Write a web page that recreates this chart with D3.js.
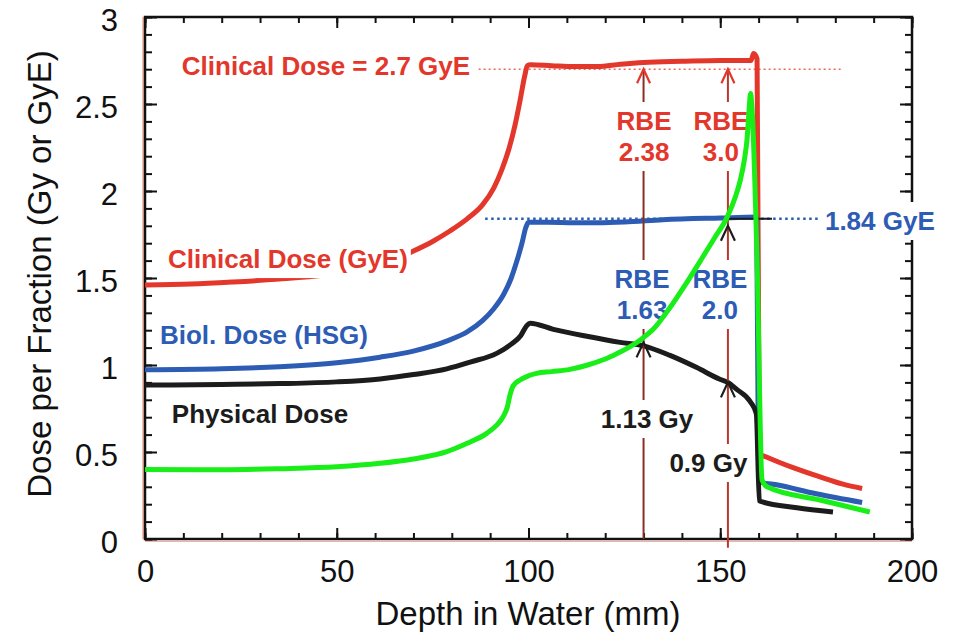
<!DOCTYPE html>
<html><head><meta charset="utf-8">
<script src="https://cdn.jsdelivr.net/npm/d3@7"></script>
<style>
html,body{margin:0;padding:0;background:#fff;}
svg{display:block;font-family:"Liberation Sans",Arial,Helvetica,sans-serif;}
</style></head><body>
<svg id="chart" width="953" height="634"></svg>
<script>
// Depth-dose profiles: [depth in mm, dose per fraction]
const clinicalDose = [[0,1.46],[12,1.465],[23,1.477],[35,1.494],[47,1.517],[53,1.535],[58,1.557],[63,1.59],[67,1.625],[70,1.655],[75,1.71],[79.5,1.77],[84,1.84],[88,1.92],[91,2.02],[93,2.12],[95,2.25],[96.5,2.38],[97.8,2.52],[99,2.66],[99.7,2.72],[100.5,2.725],[106,2.72],[112,2.715],[118,2.715],[124,2.728],[130,2.738],[140,2.745],[150,2.75],[158,2.75],[158.7,2.79],[159.6,2.76],[160.2,0.49],[162.2,0.47],[169,0.41],[176,0.357],[182,0.315],[187,0.29]];
const biolDose = [[0,0.972],[20,0.978],[35,0.99],[50,1.013],[61.3,1.045],[70,1.08],[79,1.14],[84,1.19],[88,1.255],[91,1.325],[93.5,1.405],[95.5,1.5],[97,1.6],[98.3,1.7],[99.3,1.79],[100,1.82],[105,1.82],[112,1.818],[118,1.818],[125,1.822],[135,1.835],[150,1.845],[159.4,1.85],[160.1,0.33],[165,0.31],[175,0.26],[187,0.21]];
const physicalDose = [[0,0.885],[20,0.888],[35.2,0.893],[50,0.903],[61.3,0.92],[70,0.945],[78.7,0.978],[85,1.018],[91.7,1.067],[95.5,1.12],[98,1.17],[99.5,1.225],[100.4,1.24],[106.5,1.205],[115.2,1.165],[123.9,1.13],[130,1.11],[136.9,1.055],[143.9,0.985],[149.9,0.918],[152,0.9],[154.3,0.86],[157.8,0.79],[159.4,0.72],[160.2,0.22],[161,0.213],[170,0.18],[179.4,0.155]];
const greenDose = [[0,0.40],[20,0.398],[35.2,0.404],[50,0.415],[61.3,0.435],[70,0.46],[78.7,0.502],[84,0.55],[89.1,0.607],[91.5,0.65],[93.4,0.703],[94.5,0.76],[95.2,0.83],[96,0.88],[97.8,0.914],[100,0.938],[102.1,0.952],[106,0.962],[110.8,0.975],[115,0.997],[119.5,1.03],[123,1.065],[126.5,1.105],[129.5,1.15],[132.5,1.205],[136.9,1.33],[141,1.465],[145,1.605],[148.5,1.73],[151.8,1.85],[154,1.97],[155.2,2.06],[156.3,2.18],[157,2.3],[157.5,2.46],[157.9,2.56],[158.3,2.47],[159.6,1.6],[160.9,0.34],[162.2,0.30],[176,0.224],[189,0.155]];

const xTicks = [0, 50, 100, 150, 200];
const yTicks = [0, 0.5, 1, 1.5, 2, 2.5, 3];

// Reference levels and RBE markers
const clinicalTarget = 2.7;
const hsgTarget = 1.84;
const markerDepth = [130, 152];
const markerPhys = [1.13, 0.9];
const markerHSGArrow = [null, 1.8];
const rbeClinical = ["2.38", "3.0"];
const rbeHSG = ["1.63", "2.0"];
const physLabels = ["1.13 Gy", "0.9 Gy"];

const RED = "#e4372c", BLUE = "#2c5cb4", BLACK = "#1c1c1c", GREEN = "#19ee19";
const ANNOT = ["#8a2e25", "#b8382c"];

const svg = d3.select("#chart");
const x = d3.scaleLinear().domain([0, 200]).range([145, 912]);
const y = d3.scaleLinear().domain([0, 3]).range([539, 17]);

// faint trace along left and bottom axes
svg.append("line").attr("x1", 143).attr("x2", 143).attr("y1", y(3)).attr("y2", y(0))
  .attr("stroke", "#f3a890").attr("stroke-width", 1.5);
svg.append("line").attr("x1", x(0)).attr("x2", x(200)).attr("y1", y(0) + 2.5).attr("y2", y(0) + 2.5)
  .attr("stroke", "#f3b0a0").attr("stroke-width", 1.2);

function styleAxis(g) {
  g.select(".domain").remove();
  g.attr("font-family", null).attr("font-size", null);
  g.selectAll(".tick line").attr("stroke", "#111").attr("stroke-width", 2);
  g.selectAll(".tick text").attr("fill", "#111").style("font-size", "31px");
}

const minorX = d3.range(0, 201, 10);
const minorY = d3.range(0, 31, 1).map(d => d / 10);

// bottom
svg.append("g").attr("transform", `translate(0,${y(0)})`)
  .call(d3.axisBottom(x).tickValues(minorX).tickSizeInner(-6).tickSizeOuter(0).tickFormat("")).call(styleAxis);
svg.append("g").attr("transform", `translate(0,${y(0)})`)
  .call(d3.axisBottom(x).tickValues(xTicks).tickSizeInner(-11).tickSizeOuter(0).tickPadding(21).tickFormat(d3.format(""))).call(styleAxis);
// top
svg.append("g").attr("transform", `translate(0,${y(3)})`)
  .call(d3.axisTop(x).tickValues(minorX).tickSizeInner(-6).tickSizeOuter(0).tickFormat("")).call(styleAxis);
svg.append("g").attr("transform", `translate(0,${y(3)})`)
  .call(d3.axisTop(x).tickValues(xTicks).tickSizeInner(-11).tickSizeOuter(0).tickFormat("")).call(styleAxis);
// left
svg.append("g").attr("transform", `translate(${x(0)},0)`)
  .call(d3.axisLeft(y).tickValues(minorY).tickSizeInner(-7).tickSizeOuter(0).tickFormat("")).call(styleAxis);
const yl = svg.append("g").attr("transform", `translate(${x(0)},0)`)
  .call(d3.axisLeft(y).tickValues(yTicks).tickSizeInner(-12).tickSizeOuter(0).tickPadding(27).tickFormat(d3.format(""))).call(styleAxis);
yl.selectAll(".tick text").attr("dy", "0.45em");
// right
svg.append("g").attr("transform", `translate(${x(200)},0)`)
  .call(d3.axisRight(y).tickValues(minorY).tickSizeInner(-7).tickSizeOuter(0).tickFormat("")).call(styleAxis);
svg.append("g").attr("transform", `translate(${x(200)},0)`)
  .call(d3.axisRight(y).tickValues(yTicks).tickSizeInner(-12).tickSizeOuter(0).tickFormat("")).call(styleAxis);

// frame
svg.append("rect").attr("x", x(0)).attr("y", y(3))
  .attr("width", x(200) - x(0)).attr("height", y(0) - y(3))
  .attr("fill", "none").attr("stroke", "#111").attr("stroke-width", 2.5);

// axis titles
svg.append("text").attr("x", 528).attr("y", 625).attr("text-anchor", "middle")
  .style("font-size", "33px").attr("fill", "#111").text("Depth in Water (mm)");
svg.append("text").attr("transform", "translate(51,274) rotate(-90)").attr("text-anchor", "middle")
  .style("font-size", "33px").attr("fill", "#111").text("Dose per Fraction (Gy or GyE)");

const line = d3.line().x(d => x(d[0])).y(d => y(d[1])).curve(d3.curveMonotoneX);
function drawCurve(data, color) {
  svg.append("path").datum(data).attr("d", line)
    .attr("fill", "none").attr("stroke", color).attr("stroke-width", 5)
    .attr("stroke-linejoin", "round");
}

// reference dose levels
svg.append("line").attr("x1", x(87)).attr("x2", x(182)).attr("y1", y(clinicalTarget)).attr("y2", y(clinicalTarget))
  .attr("stroke", "#ec6a58").attr("stroke-width", 1.5).attr("stroke-dasharray", "2,3");
svg.append("line").attr("x1", x(88.7)).attr("x2", x(176)).attr("y1", y(hsgTarget)).attr("y2", y(hsgTarget))
  .attr("stroke", BLUE).attr("stroke-width", 2.5).attr("stroke-dasharray", "2.5,3.5");

drawCurve(clinicalDose, RED);
drawCurve(biolDose, BLUE);
drawCurve(physicalDose, BLACK);

svg.append("line").attr("x1", x(152)).attr("x2", x(163.5)).attr("y1", y(hsgTarget)).attr("y2", y(hsgTarget))
  .attr("stroke", BLACK).attr("stroke-width", 2);

// RBE marker lines with arrowheads
function chevron(px, py, color, w, h) {
  svg.append("path").attr("d", `M${px - w},${py + h}L${px},${py}L${px + w},${py + h}`)
    .attr("fill", "none").attr("stroke", color).attr("stroke-width", 2.2).attr("stroke-linejoin", "miter");
}
markerDepth.forEach((d, i) => {
  const px = x(d);
  svg.append("line").attr("x1", px).attr("x2", px)
    .attr("y1", i === 1 ? y(-0.05) : y(0)).attr("y2", y(clinicalTarget))
    .attr("stroke", ANNOT[i]).attr("stroke-width", 2);
  chevron(px, y(clinicalTarget), RED, 6.5, 14);
  chevron(px, y(markerPhys[i]), BLACK, 7, 15);
  if (markerHSGArrow[i] != null) chevron(px, y(markerHSGArrow[i]), BLACK, 7, 15);
});

// text labels on a white ground
function label(text, px, py, color, anchor) {
  const g = svg.append("g");
  const t = g.append("text").attr("x", px).attr("y", py).attr("text-anchor", anchor || "start")
    .attr("fill", color).style("font-size", "26px").style("font-weight", "bold").text(text);
  const b = t.node().getBBox();
  g.insert("rect", "text").attr("x", b.x - 3).attr("y", b.y - 4)
    .attr("width", b.width + 6).attr("height", b.height + 8).attr("fill", "#fff");
  return t;
}

label("Clinical Dose = 2.7 GyE", x(9.6), y(2.667), RED);
label("Clinical Dose (GyE)", x(6.0), y(1.557), RED);
label("Biol. Dose (HSG)", x(3.9), y(1.121), BLUE);
label("Physical Dose", x(7.0), y(0.667), BLACK);
label("1.84 GyE", x(177.3), y(1.776), BLUE);

const rbeShift = [0.5, -7];
const hsgShift = [-1.5, -8];
const physShift = [3.5, -19.5];
markerDepth.forEach((d, i) => {
  const px = x(d);
  label("RBE", px + rbeShift[i], 130, RED, "middle");
  label(rbeClinical[i], px + rbeShift[i], 161, RED, "middle");
  label("RBE", px + hsgShift[i], 288, BLUE, "middle");
  label(rbeHSG[i], px + hsgShift[i], 319, BLUE, "middle");
  label(physLabels[i], px + physShift[i], i === 0 ? 428 : 472, BLACK, "middle");
});

drawCurve(greenDose, GREEN);
</script>
</body></html>
